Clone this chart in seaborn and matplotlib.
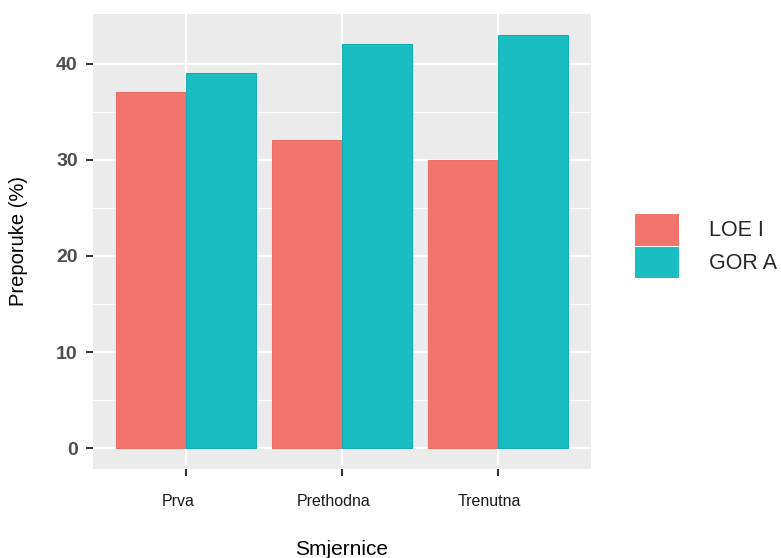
import matplotlib
matplotlib.use("Agg")
import matplotlib.pyplot as plt
import matplotlib.transforms as mtransforms
import seaborn as sns
import pandas as pd

# values
categories = ["Prva", "Prethodna", "Trenutna"]
groups = ["LOE I", "GOR A"]
loe_values = [37, 32, 30]
gor_values = [39, 42, 43]
y_ticks = [0, 10, 20, 30, 40]

df = pd.DataFrame({
    "Smjernice": categories * 2,
    "Grupa": [groups[0]] * 3 + [groups[1]] * 3,
    "Preporuke": loe_values + gor_values,
})

sns.set_theme(style="darkgrid", rc={
    "axes.facecolor": "#EBEBEB",
    "grid.color": "white",
    "axes.edgecolor": "#EBEBEB",
    "xtick.color": "#333333",
    "ytick.color": "#333333",
})
plt.rcParams["font.family"] = ["Liberation Sans", "DejaVu Sans"]

fig = plt.figure(figsize=(7.81, 5.58), dpi=100)
ax = fig.add_axes([93 / 781, 1 - 469 / 558, (591 - 93) / 781, (469 - 14) / 558])

palette = {"LOE I": "#F1756D", "GOR A": "#19BDC2"}
sns.barplot(data=df, x="Smjernice", y="Preporuke", hue="Grupa", order=categories,
            hue_order=groups, palette=palette, width=0.9, gap=0, saturation=1,
            edgecolor=None, linewidth=0, ax=ax)
for bar, col in zip(ax.patches, ["#E8706A"] * 3 + ["#16AEB3"] * 3):
    bar.set_edgecolor(col)
    bar.set_linewidth(0.8)

ax.set_xlim(-0.6, 2.6)
ax.set_ylim(-2.15, 45.15)
ax.set_yticks(y_ticks)
ax.set_yticks([5, 15, 25, 35], minor=True)
ax.grid(True, which="major", color="white", linewidth=1.6)
ax.grid(True, which="minor", axis="y", color="white", linewidth=0.8)
ax.grid(False, which="minor", axis="x")
ax.set_axisbelow(True)
for s in ax.spines.values():
    s.set_visible(False)

ax.tick_params(axis="y", which="major", length=5, width=1.5, color="#333333",
               labelsize=14, labelcolor="#4D4D4D", pad=6, left=True)
ax.tick_params(axis="y", which="minor", length=0)
ax.tick_params(axis="x", which="major", length=5, width=1.5, color="#333333",
               labelsize=11.5, labelcolor="#1A1A1A", pad=13, bottom=True)
for t in ax.xaxis.get_major_ticks():
    t.tick1line.set_color("#333333")
    t.tick1line.set_zorder(5)
for lab in ax.get_yticklabels():
    lab.set_fontweight("bold")

# the category labels sit a little left of their ticks in the original
shift = mtransforms.ScaledTranslation(-8 / 100, 0, fig.dpi_scale_trans)
for lab in ax.get_xticklabels():
    lab.set_transform(lab.get_transform() + shift)

ax.set_xlabel("Smjernice", fontsize=15, color="black", labelpad=22)
ax.set_ylabel("Preporuke (%)", fontsize=14.5, color="black", labelpad=20)

handles, labels = ax.get_legend_handles_labels()
ax.legend(handles, labels, loc="center left", bbox_to_anchor=(1.088, 0.49),
          frameon=False, fontsize=15.5, handlelength=2.05, handleheight=1.9,
          labelspacing=0.05, handletextpad=1.4, borderaxespad=0, borderpad=0)

fig.savefig("out.png", dpi=100)
